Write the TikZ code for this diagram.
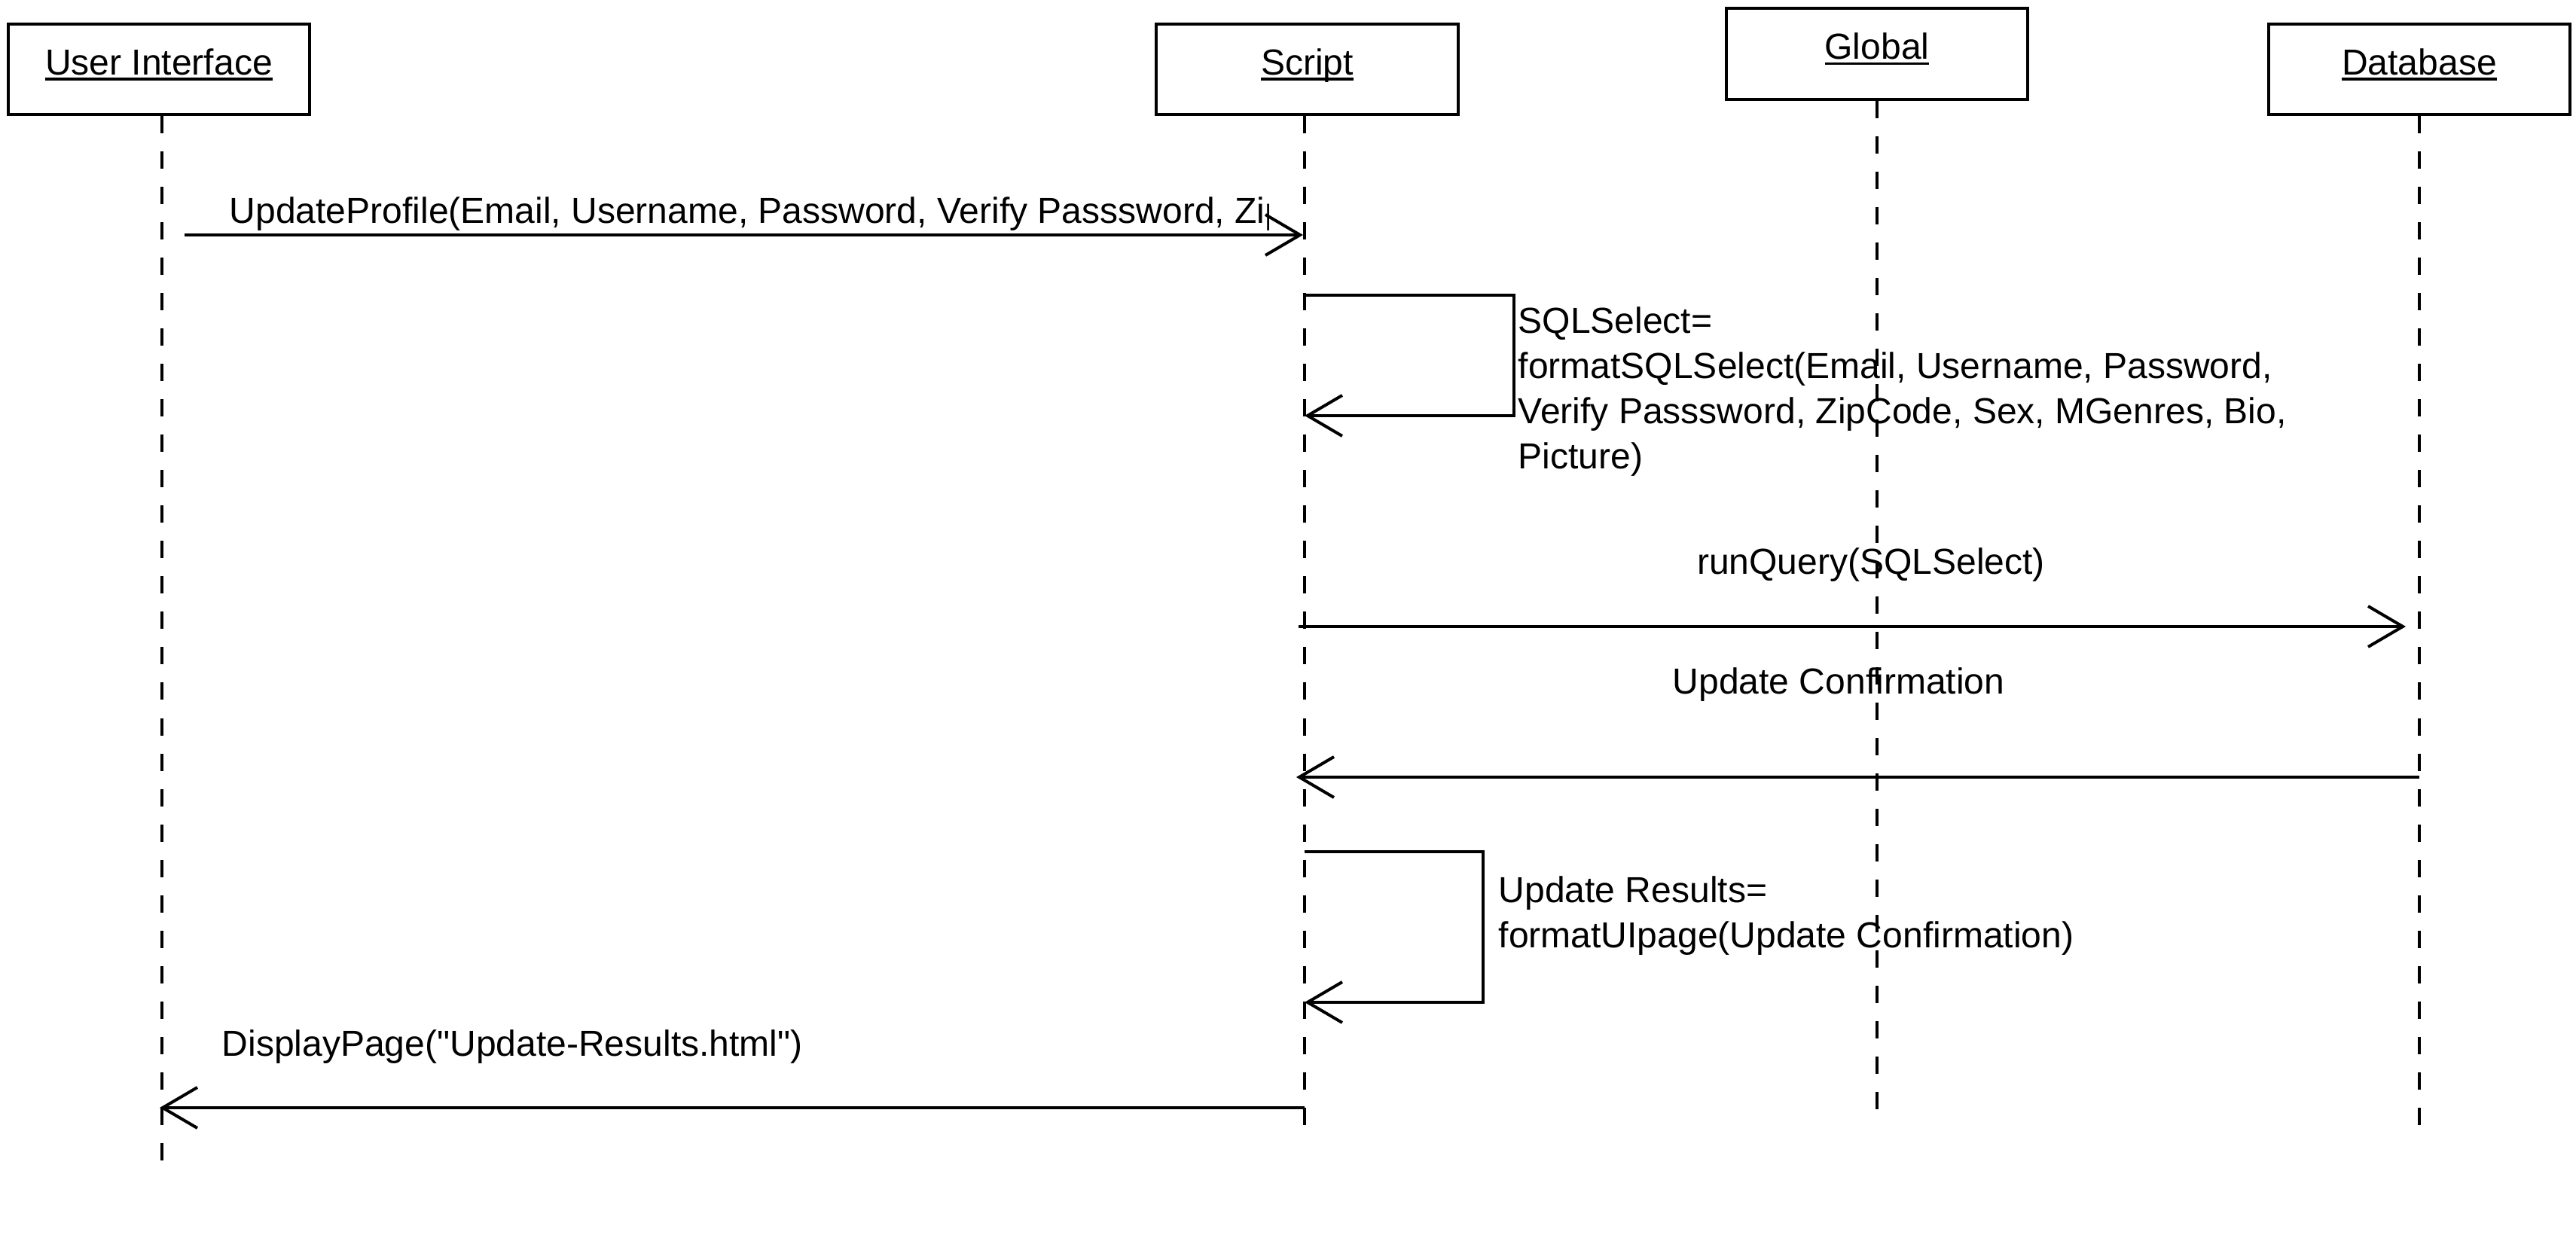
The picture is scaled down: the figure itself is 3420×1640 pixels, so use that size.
\documentclass[tikz,border=0pt]{standalone}
\usepackage{fontspec}
\setmainfont{Liberation Sans}[Ligatures=TeXOff]
\usetikzlibrary{arrows.meta}
\newcommand{\myul}[1]{\setbox0=\hbox{#1}\rlap{\rule[-2pt]{\wd0}{1pt}}\box0}
\begin{document}
\begin{tikzpicture}[x=0.01cm,y=-0.01cm,
  every node/.style={font=\fontsize{13.66pt}{17.07pt}\selectfont, inner sep=0pt},
  objbox/.style={draw, line width=1.14pt, minimum width=4cm, minimum height=1.2cm, text height=0.35cm, text depth=0.2cm},
  life/.style={line width=1.14pt, dash pattern=on 0.23cm off 0.24cm},
  msg/.style={line width=1.14pt, -{Straight Barb[length=4.6mm,width=5.4mm]}},
  lbl/.style={align=left}]
\useasboundingbox (0,0) rectangle (3420,1640);
% objects
\node[objbox] (ui) at (211,92) {\myul{User Interface}};
\node[objbox] (sc) at (1735.5,92) {\myul{Script}};
\node[objbox] (gl) at (2492,71.5) {\myul{Global}};
\node[objbox] (db) at (3212,92) {\myul{Database}};
% lifelines
\coordinate (uiE) at (215,1553);
\coordinate (scE) at (1732,1515);
\coordinate (glE) at (2492,1495);
\coordinate (dbE) at (3212,1515);
\draw[life] (ui.south -| uiE) -- (uiE);
\draw[life] (sc.south -| scE) -- (scE);
\draw[life] (gl.south -| glE) -- (glE);
\draw[life] (db.south -| dbE) -- (dbE);
% message 1
\coordinate (m1s) at (245,312);
\coordinate (m1e) at (1730,312);
\draw[msg] (m1s) -- (m1e);
\begin{scope}
\clip (240,220) rectangle (1684,330);
\node[anchor=base west] (m1l) at (304,297) {UpdateProfile(Email, Username, Password, Verify Passsword, Zip};
\end{scope}
% message 2 (self)
\coordinate (m2s) at (1732,392);
\coordinate (m2c) at (2010,552);
\coordinate (m2e) at (1732,552);
\draw[msg] (m2s) -| (m2c) -- (m2e);
\node[lbl, anchor=north west] (m2l) at (2015,407) {SQLSelect=\\formatSQLSelect(Email, Username, Password,\\Verify Passsword, ZipCode, Sex, MGenres, Bio,\\Picture)};
% message 3
\coordinate (m3s) at (1724,832);
\coordinate (m3e) at (3194,832);
\draw[msg] (m3s) -- (m3e);
\node[anchor=base] (m3l) at (2484,763) {runQuery(SQLSelect)};
% message 4
\coordinate (m4s) at (3212,1032);
\coordinate (m4e) at (1721,1032);
\draw[msg] (m4s) -- (m4e);
\node[anchor=base] (m4l) at (2441,922) {Update Confirmation};
% message 5 (self)
\coordinate (m5s) at (1732,1131);
\coordinate (m5c) at (1969,1331);
\coordinate (m5e) at (1732,1331);
\draw[msg] (m5s) -| (m5c) -- (m5e);
\node[lbl, anchor=north west] (m5l) at (1989,1163) {Update Results=\\formatUIpage(Update Confirmation)};
% message 6
\coordinate (m6s) at (1732,1471);
\coordinate (m6e) at (212,1471);
\draw[msg] (m6s) -- (m6e);
\node[anchor=base west] (m6l) at (294,1402) {DisplayPage("Update-Results.html")};
\end{tikzpicture}
\end{document}
